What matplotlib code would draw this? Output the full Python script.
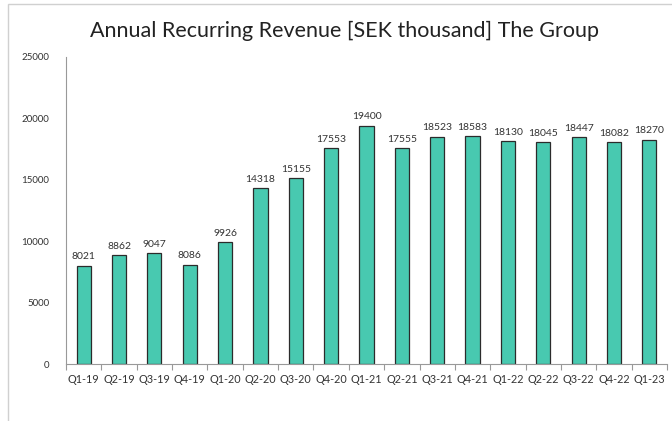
import matplotlib
matplotlib.use("Agg")
import matplotlib.pyplot as plt
from matplotlib.patches import Rectangle

categories = ["Q1-19", "Q2-19", "Q3-19", "Q4-19", "Q1-20", "Q2-20", "Q3-20", "Q4-20",
              "Q1-21", "Q2-21", "Q3-21", "Q4-21", "Q1-22", "Q2-22", "Q3-22", "Q4-22", "Q1-23"]
values = [8021, 8862, 9047, 8086, 9926, 14318, 15155, 17553,
          19400, 17555, 18523, 18583, 18130, 18045, 18447, 18082, 18270]
yticks = [0, 5000, 10000, 15000, 20000, 25000]

plt.rcParams['font.family'] = ['Lato', 'DejaVu Sans']

fig = plt.figure(figsize=(6.72, 4.21), dpi=100)
fig.patches.append(Rectangle((8/672, -0.1), 1.2, (1 - 4/421) + 0.1, transform=fig.transFigure,
                             fill=False, edgecolor='#d0d0d0', linewidth=1, zorder=0))
ax = fig.add_axes([66/672, 1 - 364/421, (667 - 66)/672, (364 - 57)/421])

x = list(range(len(categories)))
ax.bar(x, values, width=0.4, color='#48C9B0', edgecolor='#2b2b2b', linewidth=0.9, zorder=2)
for xi, v in zip(x, values):
    ax.text(xi, v + 350, str(v), ha='center', va='bottom', fontsize=7.5, color='#333333')

ax.set_xlim(-0.5, len(categories) - 0.5)
ax.set_ylim(0, 25000)
ax.set_yticks(yticks)
ax.set_yticklabels([str(t) for t in yticks], fontsize=7, color='#333333')
ax.tick_params(axis='y', length=0, pad=12)
ax.set_xticks(x)
ax.set_xticklabels(categories, fontsize=7.8, color='#333333')
ax.set_xticks([i + 0.5 for i in range(-1, len(categories))], minor=True)
ax.tick_params(axis='x', which='major', length=0, pad=7)
ax.tick_params(axis='x', which='minor', length=4, color='#999999', width=0.8)

for s in ['top', 'right']:
    ax.spines[s].set_visible(False)
for s in ['left', 'bottom']:
    ax.spines[s].set_color('#999999')
    ax.spines[s].set_linewidth(0.8)

fig.text(345/672, 1 - 31/421, "Annual Recurring Revenue [SEK thousand] The Group",
         ha='center', va='center', fontsize=15.5, color='#222222')

fig.savefig("out.png", dpi=100)
